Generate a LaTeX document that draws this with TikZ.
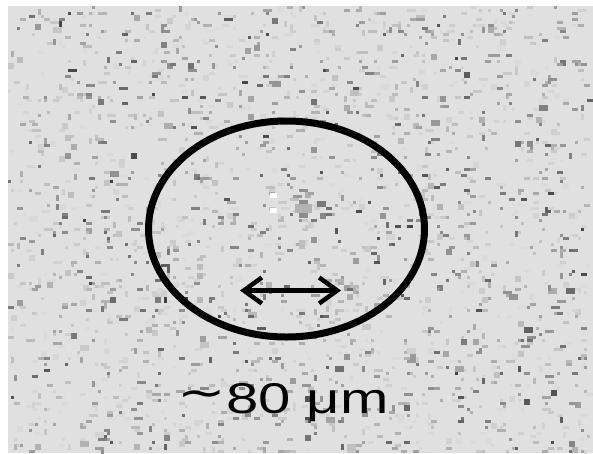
\documentclass[tikz,border=0pt]{standalone}
\usepackage{fontspec}
\setmainfont{Liberation Sans}
\newfontfamily\symfont{DejaVu Sans}
\usetikzlibrary{arrows.meta}
\definecolor{plategray}{HTML}{E0E0E0}

\begin{document}
\begin{tikzpicture}[x=1pt, y=-1pt,
  speckle/.style={fill=black!#1, draw=none},
  rim/.style={line width=7pt, black},
  scalebar/.style={{Straight Barb[length=18pt,width=26pt]}-{Straight Barb[length=18pt,width=26pt]}, line width=4.5pt}]
  \useasboundingbox (0,0) rectangle (593,453);
  \fill[plategray] (8,6) rectangle (593,453);
  % grainy background
  \pgfmathsetseed{7}
  \foreach \i in {1,...,2200}{
    \pgfmathsetmacro\px{8+3*int(194*rnd)}
    \pgfmathsetmacro\py{6+3*int(149*rnd)}
    \pgfmathsetmacro\pw{3*(1+int(2.2*rnd))}
    \pgfmathsetmacro\ph{3*(1+int(1.3*rnd))}
    \pgfmathsetmacro\g{int(14+64*rnd*rnd)}
    \fill[speckle=\g] (\px,\py) rectangle ++(\pw,\ph);
  }
  % bright spot in the middle
  \fill[white] (270,193) rectangle ++(7,5);
  \fill[white] (270,208) rectangle ++(7,5);
  \fill[speckle=45] (299,200) rectangle ++(9,18);
  \fill[speckle=30] (295,204) rectangle ++(17,9);
  % ring and scale
  \coordinate (dish) at (286.5,229);
  \draw[rim] (dish) ellipse [x radius=138, y radius=108];
  \coordinate (bar west) at (240,290.5);
  \coordinate (bar east) at (341,290.5);
  \draw[scalebar] (bar west) -- (bar east);
  \node[anchor=base, inner sep=0pt] (size) at (283,413)
    {\fontsize{43}{43}\selectfont\scalebox{1.35}[1]{\raisebox{6pt}{\symfont ∼}80 μm}};
\end{tikzpicture}
\end{document}
